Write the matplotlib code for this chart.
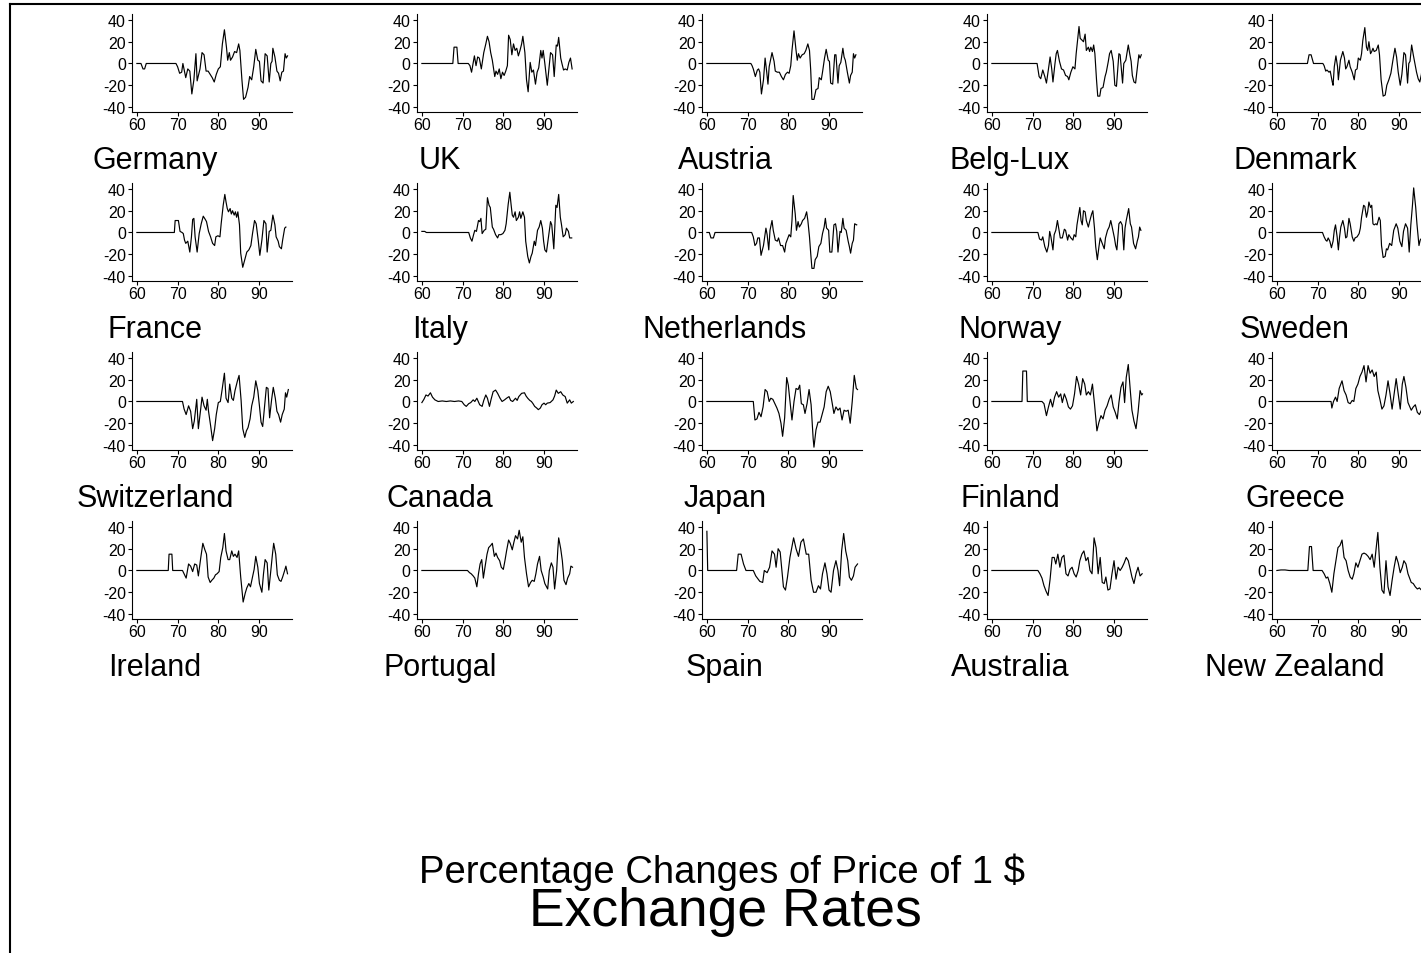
import matplotlib
matplotlib.use("Agg")
import matplotlib.pyplot as plt
from matplotlib.lines import Line2D

plt.rcParams['font.family'] = ['Liberation Sans', 'DejaVu Sans']
plt.rcParams['axes.unicode_minus'] = False

# (year, % change of the price of 1 $)
GERMANY = [(60, 0), (61, 0), (61.5, -5), (61.9, -5), (62.3, 0), (69.6, 0), (70.0, -3), (70.5, -9), (71.0, -8),
           (71.3, 0), (72.0, -13), (72.5, -5), (73.0, -7), (73.5, -28), (74.0, -15), (74.5, 9), (74.8, -16),
           (75.5, -5), (76.0, 10), (76.5, 8), (77.0, -7), (77.5, -7), (78.0, -10), (78.5, -13), (79.0, -17),
           (79.5, -10), (80.0, -5), (80.5, -3), (81.0, 18), (81.5, 31), (82.0, 15), (82.3, 3), (82.7, 10),
           (83.0, 3), (83.5, 6), (84.0, 11), (84.5, 10), (85.0, 18), (85.3, 12), (85.8, -15), (86.2, -33),
           (86.7, -31), (87.3, -22), (87.7, -12), (88.2, -15), (88.7, -3), (89.2, 13), (89.7, 3), (90.1, 2),
           (90.5, -16), (91.0, -18), (91.5, 9), (92.0, 7), (92.5, -17), (92.9, 0), (93.2, 2), (93.4, 14),
           (93.9, 6), (94.4, -7), (94.8, -9), (95.2, -16), (95.6, -8), (96.0, -7), (96.4, 9), (96.7, 5), (97.0, 7)]
UK = [(60, 0), (67.6, 0), (67.9, 15), (68.6, 15), (68.9, 0), (71.4, 0), (71.8, -2), (72.2, -8), (72.9, 7),
      (73.3, -2), (73.7, 6), (74.1, 5), (74.6, -5), (75.2, 10), (75.7, 18), (76.1, 25), (76.5, 20), (76.9, 10),
      (77.3, 3), (77.9, -12), (78.2, -7), (78.6, -10), (79.0, -5), (79.4, -14), (79.8, -8), (80.2, -11),
      (80.6, -7), (81.0, -2), (81.3, 26), (81.7, 22), (82.1, 8), (82.5, 18), (82.9, 12), (83.3, 14), (83.7, 7),
      (84.1, 12), (84.5, 18), (84.8, 25), (85.3, 10), (85.7, -15), (86.1, -26), (86.6, 1), (87.0, -8),
      (87.4, -6), (87.9, -19), (88.3, -8), (88.7, -4), (89.2, 12), (89.5, 5), (89.8, 12), (90.2, 0),
      (90.8, -20), (91.2, -5), (91.6, 10), (92.1, 8), (92.5, -12), (93.0, 17), (93.3, 16), (93.6, 24),
      (94.1, 5), (94.4, 0), (94.8, -6), (95.2, -5), (95.7, -6), (96.1, 1), (96.5, 5), (96.9, -5)]
AUSTRIA = [(60, 0), (70.8, 0), (71.1, -2), (71.4, -5), (71.9, -12), (72.4, -6), (72.7, -5), (73.0, -8),
           (73.4, -28), (73.9, -15), (74.3, 5), (74.7, -8), (75.0, -19), (75.3, -3), (76.0, 10), (76.5, 2),
           (76.8, -7), (77.3, -8), (77.8, -8), (78.3, -12), (78.8, -15), (79.3, -10), (79.8, -8), (80.2, -9),
           (80.6, -2), (80.9, 12), (81.4, 30), (81.9, 12), (82.2, 3), (82.5, 9), (82.9, 5), (83.4, 8), (83.9, 9),
           (84.3, 12), (84.8, 18), (85.2, 12), (85.5, -6), (85.8, -33), (86.3, -33), (86.8, -24), (87.3, -23),
           (87.6, -13), (88.1, -15), (88.4, -8), (88.9, 5), (89.3, 13), (89.8, 3), (90.1, 2), (90.4, -18),
           (90.9, -19), (91.4, 8), (91.7, 8), (92.2, -18), (92.5, -2), (92.9, 1), (93.4, 14), (93.7, 6),
           (94.0, 3), (94.5, -8), (95.0, -18), (95.3, -11), (95.7, -8), (96.0, 9), (96.3, 5), (96.6, 8)]
BELG_LUX = [(60, 0), (71.1, 0), (71.6, -12), (72.0, -14), (72.5, -6), (73.0, -12), (73.4, -18), (73.9, -5),
            (74.3, 6), (74.7, -5), (75.0, -17), (75.5, 0), (75.8, 9), (76.1, 12), (76.6, 2), (77.1, -5),
            (77.6, -6), (78.1, -11), (78.6, -12), (78.9, -15), (79.4, -8), (79.9, -3), (80.4, -5), (80.7, 9),
            (81.4, 34), (81.7, 23), (82.0, 22), (82.5, 20), (82.9, 27), (83.2, 12), (83.7, 15), (84.0, 11),
            (84.3, 15), (84.7, 11), (85.0, 17), (85.3, 9), (85.7, -15), (86.0, -30), (86.5, -30), (86.8, -23),
            (87.3, -22), (87.8, -12), (88.1, -8), (88.6, 2), (88.9, 9), (89.3, 12), (89.8, 2), (90.2, -20),
            (90.6, -21), (91.2, 9), (91.5, 8), (92.1, -18), (92.4, 0), (92.9, 3), (93.5, 17), (93.9, 8),
            (94.2, 2), (94.5, -11), (94.9, -17), (95.3, -18), (95.6, -8), (96.1, 8), (96.4, 5), (96.7, 8)]
DENMARK = [(60, 0), (67.5, 0), (67.9, 8), (68.4, 8), (69.0, 0), (71.3, 0), (71.6, -2), (72.0, -7), (72.3, -6),
           (72.8, -8), (73.1, -7), (73.6, -17), (73.8, -20), (74.1, -3), (74.5, 7), (74.9, -3), (75.1, -15),
           (75.6, 3), (76.2, 11), (76.6, 5), (76.9, -5), (77.2, -3), (77.7, 3), (78.0, -3), (78.5, -8),
           (79.0, -15), (79.3, -6), (79.7, -5), (80.0, 5), (80.5, 3), (80.8, 9), (81.1, 21), (81.6, 33),
           (82.0, 15), (82.3, 12), (82.6, 20), (83.0, 9), (83.3, 11), (83.6, 14), (83.9, 11), (84.4, 12),
           (84.9, 17), (85.2, 8), (85.6, -15), (86.1, -30), (86.6, -29), (87.0, -20), (87.5, -15), (88.0, -9),
           (88.5, 3), (89.0, 14), (89.4, 6), (89.8, -8), (90.3, -20), (90.7, -10), (91.2, 10), (91.6, 8),
           (92.1, -18), (92.4, 0), (92.7, 2), (93.1, 17), (93.5, 8), (93.9, 0), (94.3, -8), (94.7, -14),
           (95.1, -17), (95.5, -10), (96.0, 9), (96.4, 5), (96.8, 8)]
FRANCE = [(60, 0), (69.2, 0), (69.4, 11), (70.2, 11), (70.6, 1), (71.1, 0), (71.4, -1), (71.7, -7), (72.0, -10),
          (72.5, -8), (73.0, -18), (73.4, -4), (73.7, 12), (74.0, 13), (74.3, -4), (74.8, -18), (75.3, -1),
          (75.8, 8), (76.3, 15), (76.8, 12), (77.1, 10), (77.6, 1), (78.1, -4), (78.6, -10), (79.1, -12),
          (79.4, -4), (79.9, -3), (80.4, -4), (80.7, 8), (81.2, 25), (81.6, 35), (81.9, 28), (82.2, 22),
          (82.5, 19), (82.9, 22), (83.2, 17), (83.5, 20), (83.9, 16), (84.2, 19), (84.5, 14), (84.8, 19),
          (85.2, 7), (85.5, -19), (86.0, -32), (86.5, -25), (87.0, -18), (87.5, -16), (88.0, -12), (88.4, -1),
          (88.9, 11), (89.3, 8), (89.8, -7), (90.2, -21), (90.7, -7), (91.2, 11), (91.7, 8), (92.0, -18),
          (92.5, 1), (92.9, 2), (93.4, 16), (93.9, 7), (94.2, -4), (94.7, -8), (95.0, -13), (95.5, -15),
          (95.8, -7), (96.3, 4), (96.6, 5)]
ITALY = [(60, 1), (60.7, 1), (61.1, 0), (71.5, 0), (71.9, -5), (72.3, -8), (72.7, -2), (73.0, 2), (73.4, 1),
         (73.9, 11), (74.2, 10), (74.5, 13), (74.8, -1), (75.3, 2), (75.7, 3), (76.1, 32), (76.5, 25),
         (76.8, 23), (77.3, 5), (77.6, 3), (78.1, -2), (78.6, -5), (78.9, -2), (79.4, -2), (79.9, -1), (80.4, 2),
         (80.7, 8), (81.2, 26), (81.6, 37), (81.9, 26), (82.2, 16), (82.5, 14), (82.9, 19), (83.2, 11),
         (83.7, 14), (84.0, 19), (84.3, 13), (84.8, 19), (85.2, 14), (85.5, -8), (86.0, -22), (86.4, -28),
         (86.8, -22), (87.1, -19), (87.6, -8), (87.9, -12), (88.4, 2), (88.8, 5), (89.2, 11), (89.6, 4),
         (89.9, -8), (90.2, -16), (90.6, -18), (91.1, -4), (91.6, 10), (91.9, 7), (92.4, -15), (92.9, 25),
         (93.2, 23), (93.6, 35), (94.0, 14), (94.3, 7), (94.7, -4), (95.2, -2), (95.5, 4), (96.0, 1),
         (96.3, -5), (96.8, -5)]
NETHERLANDS = [(60, 0), (60.6, 0), (61.0, -5), (61.6, -5), (62.0, 0), (71.0, 0), (71.4, -4), (71.8, -12),
               (72.2, -10), (72.5, -5), (72.9, -5), (73.3, -21), (73.9, -12), (74.2, -4), (74.5, 4), (74.8, -2),
               (75.2, -16), (75.5, 2), (76.0, 11), (76.3, 2), (76.8, -7), (77.3, -8), (77.6, -5), (78.1, -12),
               (78.6, -12), (79.1, -18), (79.4, -10), (79.9, -5), (80.2, -2), (80.6, -4), (80.9, 11),
               (81.2, 34), (81.7, 17), (82.0, 2), (82.4, 10), (82.7, 5), (83.2, 8), (83.5, 11), (84.0, 13),
               (84.5, 19), (84.8, 11), (85.2, -4), (85.5, -19), (85.8, -33), (86.3, -33), (86.6, -25),
               (87.1, -22), (87.5, -13), (88.0, -10), (88.4, -1), (88.8, 5), (89.1, 13), (89.4, 4), (89.9, 2),
               (90.2, -18), (90.7, -18), (91.2, 7), (91.6, 8), (91.9, 1), (92.2, -18), (92.7, 1), (93.0, 0),
               (93.4, 13), (93.7, 4), (94.2, 2), (94.7, -8), (95.0, -13), (95.3, -19), (95.7, -10), (96.0, -7),
               (96.3, 8), (96.8, 7)]
NORWAY = [(60, 0), (71.3, 0), (71.7, -6), (72.2, -7), (72.5, -4), (73.0, -13), (73.5, -18), (73.9, -12),
          (74.2, 1), (74.5, -4), (75.0, -16), (75.3, -2), (75.7, 2), (76.1, 11), (76.5, 2), (76.8, -5),
          (77.3, -5), (77.8, 3), (78.1, 2), (78.6, -7), (78.9, -2), (79.4, -5), (79.9, -7), (80.2, -2),
          (80.6, -4), (80.9, 7), (81.2, 14), (81.6, 23), (81.9, 11), (82.2, 7), (82.5, 20), (82.9, 19),
          (83.2, 11), (83.7, 5), (84.0, 10), (84.5, 17), (84.8, 20), (85.2, 4), (85.5, -13), (85.9, -25),
          (86.3, -13), (86.6, -5), (87.1, -10), (87.6, -15), (87.9, -5), (88.4, 2), (88.8, 5), (89.2, 11),
          (89.6, 4), (90.1, -5), (90.4, -12), (90.7, -16), (91.2, 8), (91.6, 10), (92.0, 7), (92.4, -16),
          (92.7, 4), (93.0, 11), (93.6, 22), (94.0, 8), (94.3, 5), (94.8, -10), (95.3, -15), (95.7, -8),
          (96.0, -4), (96.3, 5), (96.6, 2)]
SWEDEN = [(60, 0), (71.2, 0), (71.6, -4), (72.0, -7), (72.3, -8), (72.6, -5), (73.0, -8), (73.4, -14),
          (73.8, -8), (74.1, 2), (74.4, 7), (74.8, -4), (75.1, -16), (75.4, -4), (75.7, 5), (76.2, 11),
          (76.6, 4), (76.9, -5), (77.2, -4), (77.7, 13), (78.0, 8), (78.5, -4), (78.9, -8), (79.2, -5),
          (79.7, -4), (80.2, -1), (80.5, 4), (80.8, 14), (81.3, 25), (81.6, 24), (82.0, 14), (82.3, 19),
          (82.6, 28), (83.0, 23), (83.3, 25), (83.6, 8), (83.9, 7), (84.3, 8), (84.6, 7), (85.1, 14),
          (85.4, 11), (85.7, -12), (86.1, -23), (86.6, -22), (86.9, -15), (87.2, -16), (87.7, -10),
          (88.2, -12), (88.7, 2), (89.3, 8), (89.7, 4), (90.2, -8), (90.7, -13), (91.1, 1), (91.6, 8),
          (92.1, 4), (92.5, -18), (92.9, 7), (93.3, 25), (93.6, 41), (94.1, 23), (94.4, 8), (94.9, -12),
          (95.2, -7), (95.6, -5), (96.0, -3), (96.5, 0), (96.9, -2)]
SWITZERLAND = [(60, 0), (71.2, 0), (71.6, -7), (72.1, -12), (72.7, -4), (73.2, -9), (73.7, -25), (74.1, -18),
               (74.7, 2), (75.1, -25), (75.7, -6), (76.0, 4), (76.5, -4), (77.0, -8), (77.3, 2), (77.6, -9),
               (78.1, -22), (78.6, -36), (79.1, -25), (79.5, -12), (80.0, -1), (80.5, 0), (80.9, 10),
               (81.5, 26), (81.9, 3), (82.4, -1), (82.8, 16), (83.3, 3), (83.7, 1), (84.1, 10), (84.7, 19),
               (85.1, 24), (85.6, 1), (86.0, -25), (86.5, -33), (86.9, -27), (87.3, -24), (87.8, -16),
               (88.2, -4), (88.7, 4), (89.2, 19), (89.7, 10), (90.1, -4), (90.5, -19), (90.9, -23), (91.3, -7),
               (91.8, 13), (92.2, 12), (92.6, -15), (93.1, 2), (93.5, 13), (94.0, 3), (94.4, -9), (94.8, -12),
               (95.3, -19), (95.7, -12), (96.2, -7), (96.5, 8), (96.8, 4), (97.2, 11)]
CANADA = [(60, -1), (60.5, 2), (61.0, 6), (61.5, 5), (62.1, 8), (62.6, 4), (63.2, 1.5), (64.0, 0), (65.0, 0.5),
          (66.0, 0), (67.0, 0.5), (68.0, 0), (69.0, 0.5), (69.8, 0), (70.4, -3), (70.9, -4.5), (71.5, -2),
          (72.0, -1), (72.6, 1.5), (73.0, 0), (73.5, 3), (74.2, -3), (74.8, -4.5), (75.2, 1), (75.7, 6),
          (76.1, 3), (76.6, -4.5), (77.0, 2), (77.5, 9), (78.1, 10.5), (78.6, 7.5), (79.2, 3), (79.7, 0),
          (80.3, 1.5), (80.8, 3), (81.4, 4.5), (81.8, 1), (82.3, 0), (83.0, 3), (83.4, 1), (83.8, 4.5),
          (84.5, 7.5), (85.2, 8), (85.6, 5), (86.0, 3), (86.5, 1), (86.9, 0), (87.3, -2), (87.7, -4.5),
          (88.2, -6), (88.6, -7.5), (89.1, -6), (89.5, -3), (90.0, -1.5), (90.4, -3), (90.8, -1.5),
          (91.5, -1), (92.2, 1.5), (92.6, 5), (93.0, 10.5), (93.5, 7.5), (94.1, 9), (94.6, 6), (95.2, 4.5),
          (95.7, -1.5), (96.3, 1.5), (96.7, -1.5), (97.2, 0)]
JAPAN = [(60, 0), (71.4, 0), (71.8, -17), (72.3, -16), (72.8, -10), (73.3, -14), (73.8, -5), (74.3, 11),
         (74.8, 9), (75.3, 0), (75.7, 3), (76.2, 2), (76.7, -2), (77.2, -6), (77.7, -11), (78.2, -20),
         (78.6, -32), (79.1, -15), (79.6, 22), (80.0, 15), (80.5, -3), (80.9, -17), (81.4, 0), (81.9, 12),
         (82.4, 11), (82.8, 15), (83.2, -2), (83.7, -3), (84.1, -11), (84.6, -2), (85.1, 11), (85.6, -3),
         (86.1, -34), (86.3, -42), (86.8, -26), (87.3, -19), (87.8, -19), (88.3, -12), (88.8, -5), (89.3, 9),
         (89.8, 14), (90.3, 9), (90.8, -2), (91.2, -11), (91.7, -5), (92.2, -8), (92.7, -6), (93.2, -17),
         (93.7, -8), (94.2, -9), (94.7, -8), (95.2, -20), (95.7, 0), (96.2, 24), (96.7, 12), (97.0, 11)]
FINLAND = [(60, 0), (67.4, 0), (67.6, 28), (68.5, 28), (68.7, 0), (72.3, 0), (72.8, -2), (73.4, -13),
           (73.9, -5), (74.4, 2), (74.9, -5), (75.4, 4), (75.9, 9), (76.4, 4), (76.9, 7), (77.3, -1), (77.8, 7),
           (78.3, 2), (78.8, -5), (79.3, -7), (79.8, -4), (80.3, 7), (80.8, 23), (81.3, 16), (81.8, 6),
           (82.3, 21), (82.8, 16), (83.2, 6), (83.7, 9), (84.2, 6), (84.7, 16), (85.2, -2), (85.8, -27),
           (86.3, -19), (86.8, -13), (87.3, -16), (87.8, -8), (88.3, -4), (88.8, 2), (89.3, 6), (89.8, -5),
           (90.3, -10), (90.8, -16), (91.2, -1), (91.7, 13), (92.2, 18), (92.6, -1), (93.0, 22), (93.5, 34),
           (94.0, 10), (94.4, -8), (94.9, -18), (95.4, -25), (95.9, -10), (96.4, 10), (96.8, 6), (97.0, 7)]
GREECE = [(60, 0), (73.3, 0), (73.5, -6), (73.9, 0), (74.4, 4), (74.8, 0), (75.3, 12), (76.0, 19), (76.5, 10),
          (77.0, 6), (77.5, -1), (78.0, -2), (78.5, 1), (78.9, 0), (79.4, 12), (79.9, 16), (80.4, 23),
          (80.9, 27), (81.4, 33), (81.9, 18), (82.4, 33), (82.9, 26), (83.4, 29), (83.9, 23), (84.4, 27),
          (84.8, 10), (85.3, 2), (85.8, -7), (86.3, -4), (86.8, 6), (87.3, 19), (87.8, 7), (88.3, -7),
          (88.8, 7), (89.3, 21), (89.8, 7), (90.3, -7), (90.8, 16), (91.2, 23), (91.7, 13), (92.2, -1),
          (93.0, -8), (93.5, -5), (94.0, -3), (94.5, -10), (95.0, -12), (95.5, -8), (96.0, 0), (96.5, -2),
          (97.0, 2)]
IRELAND = [(60, 0), (67.7, 0), (67.9, 15), (68.6, 15), (68.8, 0), (71.2, 0), (72.1, -7), (72.7, 6), (73.2, 4),
           (73.7, -1), (74.2, 6), (74.7, 5), (75.1, -5), (75.7, 12), (76.2, 25), (76.7, 19), (77.1, 15),
           (77.5, -6), (78.0, -11), (78.4, -9), (78.9, -7), (79.3, -4), (79.7, -3), (80.2, -1), (80.6, 12),
           (81.1, 21), (81.5, 34), (81.9, 18), (82.4, 10), (82.8, 10), (83.3, 18), (83.7, 13), (84.1, 15),
           (84.6, 12), (85.0, 18), (85.5, -6), (86.1, -29), (86.6, -21), (87.0, -16), (87.5, -12), (87.9, -15),
           (88.4, -6), (88.8, 1), (89.2, 13), (89.7, 3), (90.1, -12), (90.7, -20), (91.1, -3), (91.5, 10),
           (92.0, 7), (92.4, -18), (92.9, 0), (93.3, 15), (93.6, 25), (94.1, 15), (94.5, -4), (95.0, -9),
           (95.4, -10), (95.8, -6), (96.3, 0), (96.6, 4), (97.0, -3)]
PORTUGAL = [(60, 0), (71.2, 0), (71.7, -2), (72.1, -3), (72.6, -5), (73.0, -7), (73.5, -15), (73.9, -3),
            (74.3, 6), (74.7, 10), (75.1, -7), (75.5, 3), (76.0, 15), (76.4, 21), (76.9, 23), (77.3, 25),
            (77.8, 13), (78.2, 16), (78.6, 12), (79.1, 9), (79.5, 3), (80.0, 1), (80.4, 9), (80.8, 18),
            (81.3, 28), (81.7, 25), (82.2, 19), (82.6, 26), (83.0, 32), (83.5, 29), (83.9, 37), (84.4, 26),
            (84.8, 31), (85.2, 12), (85.7, -3), (86.2, -15), (86.7, -11), (87.1, -9), (87.6, -10), (88.0, -3),
            (88.4, 6), (88.9, 13), (89.3, 0), (89.8, -6), (90.2, -12), (90.9, -17), (91.3, 0), (91.8, 7),
            (92.2, 3), (92.6, -17), (93.1, 0), (93.4, 20), (93.6, 30), (94.1, 20), (94.5, 9), (94.9, -9),
            (95.4, -13), (95.8, -7), (96.3, -3), (96.6, 4), (97.0, 3)]
SPAIN = [(60, 36), (60.2, 0), (67.3, 0), (67.7, 15), (68.4, 15), (69.0, 6), (69.6, 0), (71.4, 0), (72.0, -5),
         (73.0, -10), (73.7, -11), (74.1, 0), (74.8, -2), (75.4, 3), (76.0, 18), (76.6, 15), (77.0, 3),
         (77.5, 20), (78.0, 17), (78.5, -3), (78.8, -15), (79.3, -18), (79.8, -6), (80.4, 12), (81.3, 30),
         (81.9, 20), (82.5, 13), (83.1, 26), (83.7, 29), (84.4, 15), (85.0, 15), (85.6, -9), (86.2, -20),
         (86.8, -20), (87.4, -14), (87.9, -17), (88.4, -3), (89.0, 7), (89.5, -3), (90.0, -18), (90.5, -20),
         (91.1, 0), (91.7, 9), (92.2, 0), (92.6, -14), (93.1, 18), (93.6, 34), (94.1, 18), (94.6, 9),
         (95.0, -6), (95.5, -9), (96.0, -5), (96.4, 3), (97.0, 6)]
AUSTRALIA = [(60, 0), (71.3, 0), (71.8, -3), (72.3, -7), (72.8, -14), (73.3, -19), (73.8, -23), (74.3, -8),
             (74.8, 12), (75.3, 12), (75.7, 6), (76.2, 15), (76.7, 3), (77.2, 12), (77.7, 14), (78.2, -3),
             (78.7, -5), (79.2, 1), (79.7, 3), (80.2, -3), (80.7, -6), (81.2, 0), (81.6, 9), (82.1, 15),
             (82.6, 18), (83.1, 9), (83.6, 12), (84.1, 0), (84.6, -3), (85.1, 30), (85.6, 21), (86.1, -3),
             (86.6, 12), (87.1, -11), (87.6, -12), (88.0, -6), (88.5, -18), (89.0, -17), (89.5, -3), (90.0, 9),
             (90.5, -8), (91.0, 3), (91.5, 0), (92.0, 3), (92.5, 7), (93.0, 12), (93.5, 9), (94.0, 1),
             (94.4, -6), (94.9, -12), (95.4, -3), (95.9, 3), (96.4, -5), (96.9, -3)]
NEW_ZEALAND = [(60, 0), (61.0, 0.5), (62.0, 0.5), (63.0, 0), (67.6, 0), (68.0, 22), (68.5, 22), (68.9, 0),
               (71.1, 0), (71.6, -3), (72.1, -7), (72.5, -6), (73.0, -12), (73.5, -20), (74.0, -3), (74.5, 9),
               (75.0, 21), (75.5, 23), (76.0, 28), (76.5, 12), (77.0, 9), (77.5, 0), (78.0, -6), (78.5, -8),
               (78.9, -3), (79.4, 7), (79.9, 3), (80.4, 9), (80.9, 15), (81.4, 16), (81.9, 15), (82.4, 13),
               (82.9, 10), (83.4, 15), (83.9, 3), (84.4, 21), (84.8, 35), (85.3, 3), (85.8, -18), (86.3, -21),
               (86.8, 9), (87.3, -15), (87.8, -23), (88.3, -9), (88.8, 3), (89.3, 13), (89.8, 7), (90.3, -2),
               (90.8, 3), (91.2, 9), (91.7, 6), (92.2, -3), (93.0, -11), (93.5, -12), (94.0, -15), (94.5, -17),
               (95.0, -16), (95.5, -18), (96.0, -10), (96.5, -5), (97.0, -8)]

countries = ["Germany", "UK", "Austria", "Belg-Lux", "Denmark",
             "France", "Italy", "Netherlands", "Norway", "Sweden",
             "Switzerland", "Canada", "Japan", "Finland", "Greece",
             "Ireland", "Portugal", "Spain", "Australia", "New Zealand"]
series = [GERMANY, UK, AUSTRIA, BELG_LUX, DENMARK,
          FRANCE, ITALY, NETHERLANDS, NORWAY, SWEDEN,
          SWITZERLAND, CANADA, JAPAN, FINLAND, GREECE,
          IRELAND, PORTUGAL, SPAIN, AUSTRALIA, NEW_ZEALAND]
x_ticks = [60, 70, 80, 90]
y_ticks = [-40, -20, 0, 20, 40]

W, H = 1421, 954
fig = plt.figure(figsize=(W / 100, H / 100), dpi=100)

for k, (name, data) in enumerate(zip(countries, series)):
    row, col = divmod(k, 5)
    left = 132 + 285 * col
    top = 15 + 169 * row
    ax = fig.add_axes([left / W, 1 - (top + 98) / H, 160 / W, 98 / H])
    yrs = [p[0] for p in data]
    vals = [p[1] for p in data]
    ax.plot(yrs, vals, color="black", lw=0.85)
    ax.set_xlim(58.8, 98.1)
    ax.set_ylim(-44.6, 45.5)
    ax.set_xticks(x_ticks)
    ax.set_yticks(y_ticks)
    for s in ["top", "right"]:
        ax.spines[s].set_visible(False)
    for s in ["left", "bottom"]:
        ax.spines[s].set_linewidth(0.8)
    ax.tick_params(direction="out", length=3, width=0.8, labelsize=11.5)
    ax.tick_params(axis="y", pad=1.5)
    ax.tick_params(axis="x", pad=0.5)
    # country name under the panel, centred in its cell
    fig.text((155 + 285 * col) / W, 1 - (169 + 169 * row) / H, name,
             ha="center", va="baseline", fontsize=22)

fig.text(722 / W, 1 - 883 / H, "Percentage Changes of Price of 1 $", ha="center", va="baseline", fontsize=27.5)
fig.text(725 / W, 1 - 926 / H, "Exchange Rates", ha="center", va="baseline", fontsize=38.5)

# frame lines along the top and left edge
fig.add_artist(Line2D([10 / W, 1], [1 - 5 / H, 1 - 5 / H], color="black", lw=1.5, transform=fig.transFigure))
fig.add_artist(Line2D([10 / W, 10 / W], [1 - 5 / H, 0], color="black", lw=1.5, transform=fig.transFigure))

fig.savefig("out.png", dpi=100)
